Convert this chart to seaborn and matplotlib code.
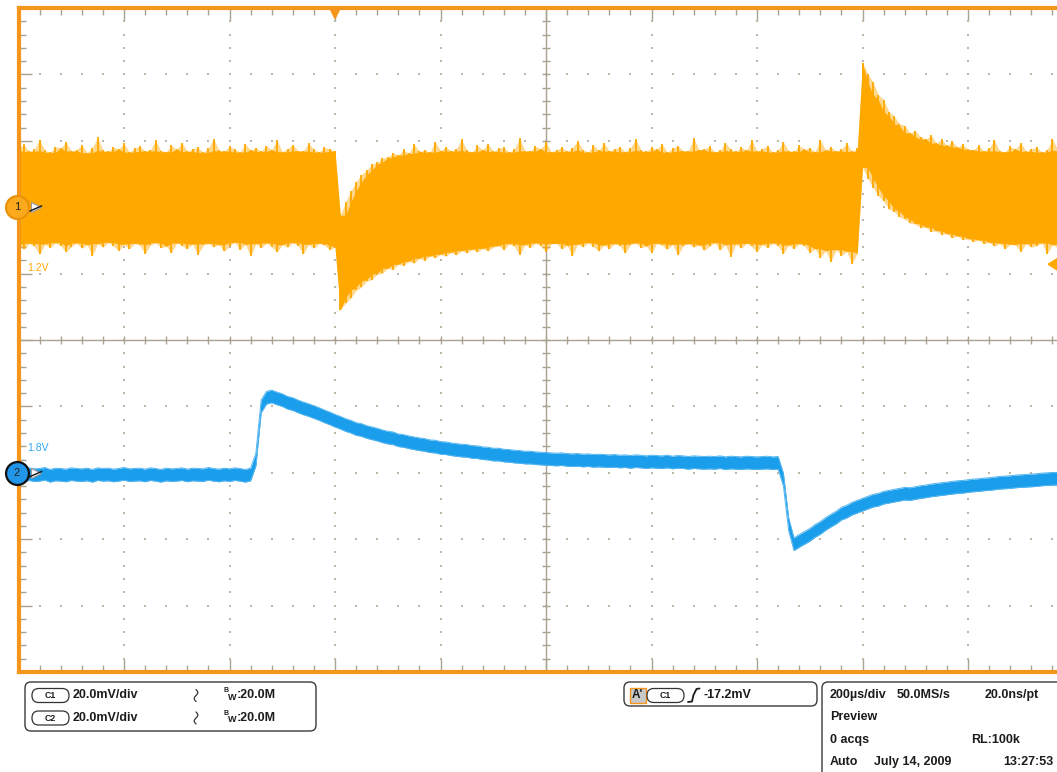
import numpy as np
import pandas as pd
import matplotlib
matplotlib.use("Agg")
import matplotlib.pyplot as plt
from matplotlib.patches import FancyBboxPatch, Polygon, Rectangle
import seaborn as sns

sns.set_theme(style="white")
plt.rcParams["font.family"] = ["Liberation Sans", "DejaVu Sans"]

W, H = 1057, 772

# ---- acquisition settings ------------------------------------------------
TIME_PER_DIV = 200        # us/div
VOLT_PER_DIV = 20.0       # mV/div (C1 and C2)
CH1_POS = 2.0             # ground marker of C1, in divisions
CH2_POS = -2.0            # ground marker of C2, in divisions
TRIG_LEVEL = -17.2        # mV on C1
T_START, T_STOP = -600, 1400

# sample grid of the traces, us after trigger
t_us = np.arange(T_START, T_STOP + 1, 10)

# C1: upper / lower edge of the noise band, mV
ch1_top = [
    # -600 .. -10
    17.6, 18.9, 16.8, 17.4, 20.3, 17.1, 16.5, 18.2, 17.8, 19.6,
    16.9, 17.3, 18.7, 16.4, 17.9, 21.0, 17.2, 16.8, 18.1, 17.5,
    19.2, 16.6, 17.7, 18.4, 16.9, 17.3, 20.1, 17.0, 16.7, 18.6,
    17.4, 19.4, 16.8, 17.6, 18.0, 16.5, 17.8, 20.6, 17.1, 16.9,
    18.3, 17.5, 16.6, 19.0, 17.2, 17.9, 16.8, 18.5, 17.3, 20.2,
    16.7, 17.6, 18.8, 17.0, 16.9, 19.3, 17.4, 16.6, 18.1, 17.5,
    # 0 .. 200 (load step down)
    16.9, -2.4, 1.5, 4.9, 7.6, 9.8, 11.2, 12.9, 13.6, 14.8,
    15.1, 16.3, 15.7, 17.4, 16.2, 18.9, 16.8, 17.3, 16.6, 19.7, 17.0,
    # 210 .. 990
    18.2, 16.9, 17.5, 20.4, 17.1, 16.7, 18.6, 17.3, 19.1, 16.8,
    17.7, 18.0, 16.6, 17.4, 20.8, 17.0, 16.9, 18.4, 17.6, 19.5,
    16.7, 17.2, 18.1, 16.8, 17.9, 20.0, 17.3, 16.6, 18.7, 17.1,
    19.3, 16.9, 17.5, 18.2, 16.7, 17.8, 20.5, 17.2, 16.8, 18.0,
    17.4, 19.0, 16.6, 17.7, 18.5, 17.0, 16.9, 20.9, 17.3, 17.6,
    18.3, 16.7, 17.1, 19.4, 17.5, 16.8, 18.0, 17.2, 20.2, 16.9,
    17.6, 18.4, 16.6, 17.3, 19.7, 17.0, 16.8, 18.6, 17.4, 17.9,
    16.7, 20.3, 17.2, 18.1, 16.9, 17.5, 19.2, 16.8, 17.7,
    # 1000 .. 1200 (load release overshoot)
    43.5, 40.2, 37.6, 33.9, 32.4, 28.8, 27.5, 25.1, 24.6, 22.4,
    23.0, 21.2, 20.5, 21.7, 19.3, 20.4, 18.6, 19.8, 18.1, 18.9, 17.5,
    # 1210 .. 1400
    17.3, 18.6, 16.9, 17.8, 20.1, 17.0, 16.7, 18.3, 17.5, 19.4,
    16.8, 17.6, 18.0, 16.6, 17.2, 20.5, 17.4, 16.9, 18.2, 17.1,
]

ch1_bot = [
    # -600 .. -10
    -11.4, -12.7, -10.9, -11.8, -14.2, -11.1, -12.3, -10.7, -11.6, -13.5,
    -11.9, -10.8, -12.4, -11.3, -14.6, -11.0, -12.1, -10.6, -11.7, -13.1,
    -11.2, -12.6, -10.9, -11.5, -14.0, -11.4, -10.7, -12.2, -11.8, -13.7,
    -10.8, -11.6, -12.5, -11.1, -14.3, -11.5, -10.9, -12.0, -11.3, -13.3,
    -11.7, -10.6, -12.8, -11.2, -14.8, -11.0, -12.3, -10.8, -11.9, -13.6,
    -11.3, -12.1, -10.7, -11.6, -14.1, -11.2, -12.4, -10.9, -11.5, -12.8,
    # 0 .. 200
    -12.0, -31.0, -28.9, -27.4, -25.0, -24.1, -22.3, -21.8, -20.2, -19.9,
    -18.4, -18.8, -17.2, -17.6, -16.3, -16.9, -15.4, -16.1, -14.7, -15.3, -14.2,
    # 210 .. 300
    -14.8, -13.6, -14.4, -13.1, -13.8, -12.7, -13.5, -12.4, -13.2, -12.1,
    # 310 .. 890
    -11.6, -12.9, -11.0, -11.8, -14.4, -11.3, -12.2, -10.8, -11.7, -13.4,
    -11.1, -10.9, -12.6, -11.5, -14.7, -11.2, -12.0, -10.7, -11.9, -13.2,
    -11.4, -12.5, -11.0, -11.6, -13.9, -11.3, -10.8, -12.3, -11.7, -13.8,
    -10.9, -11.5, -12.7, -11.2, -14.5, -11.6, -11.0, -12.1, -11.4, -13.0,
    -11.8, -10.7, -12.9, -11.3, -14.9, -11.1, -12.4, -10.9, -11.8, -13.5,
    -11.2, -12.2, -10.8, -11.7, -14.0, -11.4, -12.5, -11.0, -11.6,
    # 900 .. 990
    -13.8, -12.5, -15.2, -13.1, -16.4, -12.8, -14.6, -13.3, -17.0, -13.9,
    # 1000 .. 1200
    12.0, 8.6, 5.9, 3.4, 1.8, -0.5, -1.3, -2.9, -3.6, -4.8,
    -5.1, -6.2, -6.0, -7.4, -7.1, -8.3, -8.0, -9.2, -8.7, -9.8, -9.5,
    # 1210 .. 1400
    -10.4, -9.9, -11.0, -10.6, -11.8, -10.9, -12.6, -11.2, -11.5, -13.4,
    -11.0, -12.1, -11.6, -10.8, -14.0, -11.3, -12.2, -11.1, -11.7, -13.0,
]

# C2: centre of the trace, mV
ch2_mid = [
    # -600 .. -160
    -0.5, -0.8, -0.4, -0.7, -0.6, -0.3, -0.9, -0.5, -0.6, -0.8,
    -0.4, -0.6, -0.7, -0.5, -0.9, -0.4, -0.6, -0.5, -0.8, -0.6,
    -0.3, -0.7, -0.6, -0.5, -0.8, -0.4, -0.6, -0.9, -0.5, -0.7,
    -0.6, -0.4, -0.8, -0.5, -0.6, -0.7, -0.3, -0.6, -0.8, -0.5,
    -0.7, -0.4, -0.6, -0.9, -0.5,
    # -150 .. 0
    4.0, 20.0, 22.6, 23.0, 22.4, 21.9, 21.1, 20.7, 20.0, 19.4,
    18.9, 18.3, 17.7, 17.0, 16.4, 15.7,
    # 10 .. 400
    15.1, 14.4, 13.9, 13.2, 12.9, 12.3, 11.9, 11.5, 11.0, 10.6,
    10.4, 9.8, 9.6, 9.2, 8.9, 8.6, 8.4, 8.0, 7.9, 7.5,
    7.4, 7.1, 6.9, 6.7, 6.6, 6.3, 6.2, 5.9, 5.8, 5.5,
    5.5, 5.2, 5.1, 4.9, 4.8, 4.6, 4.6, 4.4, 4.3, 4.2,
    # 410 .. 840
    4.1, 4.0, 4.1, 3.9, 3.8, 3.9, 3.7, 3.8, 3.6, 3.7,
    3.6, 3.5, 3.6, 3.4, 3.5, 3.3, 3.5, 3.4, 3.2, 3.4,
    3.3, 3.2, 3.4, 3.1, 3.3, 3.2, 3.0, 3.2, 3.1, 3.0,
    3.1, 3.0, 3.2, 2.9, 3.1, 3.0, 2.9, 3.1, 3.0, 2.9,
    3.0, 3.1, 2.9, 3.0,
    # 850 .. 1400
    -2.0, -15.5, -21.5, -20.5, -19.6, -18.7, -17.5, -16.6, -15.4, -14.4,
    -13.5, -12.3, -11.7, -10.8, -10.2, -9.6, -9.0, -8.4, -8.1, -7.5,
    -7.2, -6.9, -6.6, -6.3, -6.4, -6.1, -5.8, -5.6, -5.3, -5.1,
    -4.9, -4.7, -4.5, -4.3, -4.2, -4.0, -3.8, -3.7, -3.5, -3.4,
    -3.2, -3.0, -2.9, -2.8, -2.6, -2.5, -2.4, -2.3, -2.2, -2.0,
    -1.9, -1.8, -1.8, -1.7, -1.6, -1.6,
]
CH2_HALF = 1.9   # half thickness of the C2 noise band, mV

assert len(ch1_top) == len(t_us) == len(ch1_bot) == len(ch2_mid)

# ---- colours ------------------------------------------------------------
ORANGE = "#FFA800"
BORDER = "#F5961C"
BLUE = "#1A9DEB"
BLUE_EDGE = "#52B5F0"
GRIDC = "#A9A28E"
DOTC = "#BDB7A6"
INK = "#1c1c1c"

top = np.array(ch1_top)
bot = np.array(ch1_bot)

# solid core of the C1 band: each edge pulled in to its neighbours,
# except across the load steps, so the peaks stand out as thin needles
nb_top = np.minimum(np.roll(top, 1), np.roll(top, -1))
nb_bot = np.maximum(np.roll(bot, 1), np.roll(bot, -1))
core_top = np.where(np.abs(top - nb_top) < 4.5, np.minimum(top, nb_top), top)
core_bot = np.where(np.abs(bot - nb_bot) < 4.5, np.maximum(bot, nb_bot), bot)

df = pd.DataFrame({
    "t": t_us,
    "c1_hi": CH1_POS + top / VOLT_PER_DIV,
    "c1_lo": CH1_POS + bot / VOLT_PER_DIV,
    "c1_core_hi": CH1_POS + core_top / VOLT_PER_DIV,
    "c1_core_lo": CH1_POS + core_bot / VOLT_PER_DIV,
    "c2_hi": CH2_POS + (np.array(ch2_mid) + CH2_HALF) / VOLT_PER_DIV,
    "c2_lo": CH2_POS + (np.array(ch2_mid) - CH2_HALF) / VOLT_PER_DIV,
})

fig = plt.figure(figsize=(W / 100, H / 100), dpi=100)
fig.patch.set_facecolor("white")
ax = fig.add_axes([18.5 / W, 100 / H, 1055 / W, 664 / H])
ax.set_facecolor("white")
ax.set_xlim(T_START, T_STOP)
ax.set_ylim(-5, 5)

# graticule: dotted division lines
vx = [x for x in range(T_START + TIME_PER_DIV, T_STOP, TIME_PER_DIV) if x != 400]
hy = [y for y in range(-4, 5) if y != 0]
dots_y = np.arange(-4.8, 4.81, 0.2)
dots_x = np.arange(T_START + 40, T_STOP, 40)
for x in vx:
    ax.scatter(np.full_like(dots_y, x), dots_y, s=2.0, marker="s",
               color=DOTC, lw=0, zorder=1)
for y in hy:
    ax.scatter(dots_x, np.full_like(dots_x, y, dtype=float), s=2.0, marker="s",
               color=DOTC, lw=0, zorder=1)

# centre cross with minor marks
ax.axhline(0, color=GRIDC, lw=1, zorder=2)
ax.axvline(400, color=GRIDC, lw=1, zorder=2)
ax.plot(dots_x, np.zeros_like(dots_x, dtype=float), ls="none", marker="|",
        ms=5.5, mew=1, color=GRIDC, zorder=2)
ax.plot(np.full_like(dots_y, 400), dots_y, ls="none", marker="_",
        ms=5.5, mew=1, color=GRIDC, zorder=2)

# edge ticks
ax.set_xticks(np.arange(T_START, T_STOP + 1, TIME_PER_DIV))
ax.set_xticks(np.arange(T_START, T_STOP + 1, 40), minor=True)
ax.set_yticks(np.arange(-5, 6, 1))
ax.set_yticks(np.arange(-5, 5.01, 0.2), minor=True)
ax.tick_params(which="both", direction="in", color=GRIDC, width=1,
               bottom=True, top=True, left=True, right=True,
               labelbottom=False, labelleft=False)
ax.tick_params(which="major", length=9.5)
ax.tick_params(which="minor", length=4.7)
for s in ax.spines.values():
    s.set_color(BORDER)
    s.set_linewidth(3)
    s.set_zorder(10)

# C1 trace: faint envelope, solid core, needle peaks
ax.fill_between(df["t"], df["c1_lo"], df["c1_hi"], color=ORANGE, alpha=0.45,
                lw=0, zorder=3)
ax.fill_between(df["t"], df["c1_core_lo"], df["c1_core_hi"], color=ORANGE,
                lw=0, zorder=3)
ax.vlines(df["t"], df["c1_lo"], df["c1_hi"], color=ORANGE, lw=1.3, zorder=3)

# C2 trace
ax.fill_between(df["t"], df["c2_lo"], df["c2_hi"], color=BLUE, lw=0, zorder=3)
sns.lineplot(data=df, x="t", y="c2_hi", ax=ax, color=BLUE_EDGE, lw=0.7,
             estimator=None, zorder=3)
sns.lineplot(data=df, x="t", y="c2_lo", ax=ax, color=BLUE_EDGE, lw=0.7,
             estimator=None, zorder=3)
ax.set_xlabel("")
ax.set_ylabel("")

# trigger position (top) and trigger level (right)
ax.add_patch(Polygon([(-10, 5), (10, 5), (0, 4.84)], closed=True,
                     color=BORDER, clip_on=False, zorder=11))
trig_y = CH1_POS + TRIG_LEVEL / VOLT_PER_DIV
ax.add_patch(Polygon([(1352, trig_y), (1372, trig_y + 0.1), (1372, trig_y - 0.1)],
                     closed=True, color=ORANGE, clip_on=False, zorder=11))

# channel ground markers
for pos, face, edge, num in [(CH1_POS, "#FBAA1E", "#E8920A", "1"),
                             (CH2_POS, "#2196E8", "#111111", "2")]:
    ax.plot([-566], [pos], marker=">", ms=7, mfc="white", mec="#999999",
            mew=0.8, clip_on=False, zorder=12)
    ax.plot([-582, -556], [pos - 0.07, pos + 0.02], color="#111111", lw=1,
            clip_on=False, zorder=12)
    ax.plot([-603], [pos], marker="o", ms=16.5, mfc=face, mec=edge,
            mew=1.6, clip_on=False, zorder=13)
    ax.text(-603, pos, num, ha="center", va="center", fontsize=8,
            color="#222222", zorder=14, clip_on=False)

# channel offset labels
ax.text(-584, 1.08, "1.2V", color=ORANGE, fontsize=7.5, ha="left",
        va="center", zorder=7)
ax.text(-584, -1.63, "1.8V", color="#33A8F0", fontsize=7.5, ha="left",
        va="center", zorder=7)

# ---- readout panels (pixel coordinates) ---------------------------------
ov = fig.add_axes([0, 0, 1, 1])
ov.set_xlim(0, W)
ov.set_ylim(H, 0)
ov.axis("off")
ov.patch.set_alpha(0)


def box(x0, y0, x1, y1, r=6, lw=1.0, fc="white", ec="#3a3a3a"):
    ov.add_patch(FancyBboxPatch((x0, y0), x1 - x0, y1 - y0,
                                boxstyle=f"round,pad=0,rounding_size={r}",
                                fc=fc, ec=ec, lw=lw))


def pill(x0, y0, label):
    box(x0, y0, x0 + 37, y0 + 14, r=6.8, lw=0.9, ec="#333333")
    ov.text(x0 + 18.5, y0 + 7.3, label, ha="center", va="center",
            fontsize=6.3, fontweight="bold", color=INK)


def txt(x, y, s, size=9, **kw):
    ov.text(x, y, s, ha="left", va="center", fontsize=size,
            fontweight="bold", color=INK, **kw)


# small vertical sine glyph of the coupling indicator
gs = np.linspace(0, 1, 30)

# vertical settings
box(25, 682, 316, 731)
for y, ch in [(695.5, "C1"), (718, "C2")]:
    pill(32, y - 7, ch)
    txt(73, y, "20.0mV/div")
    ov.plot(196 + 1.8 * np.sin(2 * np.pi * gs), y - 6 + 12 * gs,
            color="#333333", lw=0.9)
    txt(224, y - 4.5, "B", size=5)
    txt(228, y + 1.5, "W", size=6.5)
    txt(237, y, ":20.0M")

# trigger settings
box(624, 682, 817, 706)
ov.add_patch(Rectangle((629.5, 688), 16.5, 15, fc="#C8C8C8", ec=BORDER, lw=1))
txt(631.5, 695.5, "A'", size=8.5)
pill(647, 688.5, "C1")
ov.plot([688, 692, 693.5, 696.5, 699.5], [702, 701.5, 695, 689, 688.5],
        color=INK, lw=1.3, solid_capstyle="round")
txt(703, 695.5, "-17.2mV")

# horizontal / acquisition settings
box(822, 682, 1100, 820)
txt(830, 695, "200µs/div")
txt(897, 695, "50.0MS/s")
txt(985, 695, "20.0ns/pt")
txt(830, 717, "Preview")
txt(830, 740, "0 acqs")
txt(971, 740, "RL:100k")
txt(830, 762, "Auto")
txt(874, 762, "July 14, 2009")
txt(1003, 762, "13:27:53")

fig.savefig("out.png", dpi=100, facecolor="white")
